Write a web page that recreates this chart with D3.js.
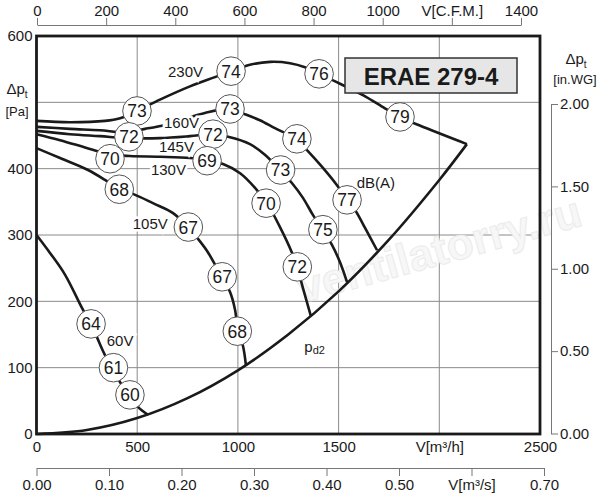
<!DOCTYPE html>
<html>
<head>
<meta charset="utf-8">
<script src="https://cdn.jsdelivr.net/npm/d3@7/dist/d3.min.js"></script>
<style>
  html, body { margin: 0; padding: 0; background: #fff; }
  svg { display: block; font-family: "Liberation Sans", Arial, sans-serif; }
</style>
</head>
<body>
<svg id="chart" width="600" height="500"></svg>
<script>
// ---------- DATA (flow in m³/h, pressure in Pa) ----------
const flowTicks = [0, 500, 1000, 1500, 2000, 2500];
const flowTickLabels = ["0", "500", "1000", "1500", "V[m³/h]", "2500"];
const paGrid = [100, 200, 300, 400, 500];
const paTickLabels = [0, 100, 200, 300, 400, 600];
const cfmTicks = [0, 200, 400, 600, 800, 1000, 1200, 1400];
const cfmTickLabels = ["0", "200", "400", "600", "800", "1000", "V[C.F.M.]", "1400"];
const m3sTicks = [0, 0.1, 0.2, 0.3, 0.4, 0.5, 0.6, 0.7];
const m3sTickLabels = ["0.00", "0.10", "0.20", "0.30", "0.40", "0.50", "V[m³/s]", "0.70"];
const inwgTicks = [0, 0.5, 1.0, 1.5, 2.0];
const inwgTickLabels = ["0.00", "0.50", "1.00", "1.50", "2.00"];

const curve230V = [[0,472],[166,470],[340,472],[415,476],[499,487],[613,504],[762,524],[886,538],[966,547],[1050,556],[1160,561],[1259,559],[1333,553],[1403,543],[1507,528],[1621,511],[1730,491],[1804,478],[1903,465],[2137,437]];
const curve160V = [[0,463],[166,460],[315,458],[439,455],[539,460],[638,466],[737,475],[836,484],[961,490],[1035,482],[1109,473],[1184,461],[1288,445],[1343,428],[1417,403],[1492,375],[1542,353],[1581,338],[1636,308],[1691,277]];
const curve145V = [[0,457],[166,452],[315,449],[459,446],[613,446],[762,449],[871,452],[951,448],[1060,437],[1134,421],[1209,398],[1269,378],[1323,356],[1373,330],[1422,308],[1467,285],[1507,259],[1542,229]];
const curve130V = [[0,452],[117,443],[241,432],[355,422],[464,419],[613,418],[762,416],[847,412],[926,407],[1011,393],[1085,371],[1144,348],[1209,312],[1269,273],[1294,252],[1323,220],[1362,178]];
const curve105V = [[0,431],[117,416],[256,398],[340,383],[410,369],[479,362],[578,348],[678,333],[752,312],[800,295],[847,276],[887,255],[921,237],[961,214],[986,187],[1000,155],[1025,133],[1040,103]];
const curve60V = [[0,300],[67,273],[142,240],[231,187],[271,166],[300,146],[340,119],[380,100],[415,78],[464,59],[504,41],[554,29]];
const curvePd2 = [[0,0],[250,6],[500,24],[750,54],[1000,96],[1250,150],[1500,215],[1750,293],[2000,383],[2137,437]];

const seriesNames = ["230V", "160V", "145V", "130V", "105V", "60V"];
// label anchor points [flow, pressure]
const seriesLabelPos = [[740,547],[720,470],[695,433],[655,398],[565,317],[415,141]];

// sound level markers: [flow, pressure, dB(A)]
const soundLevels = [
  [499,487,73],[966,547,74],[1403,543,76],[1805,478,79],
  [961,490,73],[1293,445,74],[1542,353,77],
  [459,448,72],[876,452,72],[1212,398,73],[1422,308,75],
  [365,415,70],[847,412,69],[1140,348,70],[1295,252,72],
  [411,369,68],[754,312,67],[922,237,67],[997,155,68],
  [271,166,64],[382,100,61],[464,59,60]
];

const chartTitle = "ERAE 279-4";

// ---------- SCALES ----------
const svg = d3.select("#chart");
const x = d3.scaleLinear().domain([0, 2500]).range([36.5, 540]);
const y = d3.scaleLinear().domain([0, 600]).range([434, 36]);
const xCfm = d3.scaleLinear().domain([0, 1400]).range([37, 521]);
const xM3s = d3.scaleLinear().domain([0, 0.7]).range([36.5, 544]);
const yInwg = d3.scaleLinear().domain([0, 2]).range([433.5, 104]);

const FS = 15;

// ---------- GRID ----------
const grid = svg.append("g").attr("stroke", "#8a8a8a").attr("stroke-width", 1);
flowTicks.filter(v => v > 0 && v < 2500).forEach(v => {
  grid.append("line").attr("x1", x(v)).attr("x2", x(v)).attr("y1", y(600)).attr("y2", y(0));
});
paGrid.forEach(v => {
  grid.append("line").attr("x1", x(0)).attr("x2", x(2500)).attr("y1", y(v)).attr("y2", y(v));
});

// watermark
svg.append("text")
  .attr("transform", "translate(440,253) rotate(-15.5)")
  .attr("text-anchor", "middle").attr("dominant-baseline", "middle")
  .attr("font-size", 44).attr("font-weight", "bold")
  .attr("fill", "#f7f7f7").attr("stroke", "#ebebeb").attr("stroke-width", 1)
  .text("ventilatorry.ru");

// ---------- CURVES ----------
const line = d3.line().x(d => x(d[0])).y(d => y(d[1])).curve(d3.curveCatmullRom.alpha(0.5));
const allCurves = [curve230V, curve160V, curve145V, curve130V, curve105V, curve60V];
const curveG = svg.append("g").attr("fill", "none").attr("stroke", "#1a1a1a").attr("stroke-width", 2.6).attr("stroke-linejoin", "round");
allCurves.forEach(c => curveG.append("path").attr("d", line(c)));
curveG.append("path").attr("d", line(curvePd2));

// series labels with white halo
const labG = svg.append("g").attr("font-size", FS).attr("fill", "#1a1a1a").attr("text-anchor", "middle")
  .attr("dominant-baseline", "central");
seriesNames.forEach((n, i) => {
  labG.append("text").attr("x", x(seriesLabelPos[i][0])).attr("y", y(seriesLabelPos[i][1]))
    .attr("stroke", "#fff").attr("stroke-width", 5).attr("paint-order", "stroke").text(n);
});
labG.append("text").attr("x", x(1685)).attr("y", y(379)).text("dB(A)");
const pd = labG.append("text").attr("x", x(1330)).attr("y", y(132)).attr("text-anchor", "start");
pd.append("tspan").text("p");
pd.append("tspan").attr("font-size", 11).attr("dy", 4).text("d2");

// sound level circles
const cg = svg.append("g");
soundLevels.forEach(s => {
  const g = cg.append("g").attr("transform", `translate(${x(s[0])},${y(s[1])})`);
  g.append("circle").attr("r", 14.3).attr("fill", "#fff").attr("stroke", "#555").attr("stroke-width", 1);
  g.append("text").attr("text-anchor", "middle").attr("dominant-baseline", "central").attr("y", 0.5)
    .attr("font-size", 17.5).attr("fill", "#1a1a1a").text(s[2]);
});

// ---------- FRAME ----------
svg.append("rect").attr("x", x(0)).attr("y", y(600)).attr("width", x(2500) - x(0)).attr("height", y(0) - y(600))
  .attr("fill", "none").attr("stroke", "#1a1a1a").attr("stroke-width", 2.8);

// title box
svg.append("rect").attr("x", 345).attr("y", 58).attr("width", 172).attr("height", 35)
  .attr("fill", "#e6e6e6").attr("stroke", "#333").attr("stroke-width", 1.5);
svg.append("text").attr("x", 431).attr("y", 76).attr("text-anchor", "middle").attr("dominant-baseline", "central")
  .attr("font-size", 24).attr("font-weight", "bold").attr("fill", "#1a1a1a").text(chartTitle);

// ---------- AXES ----------
function styleAxis(g) {
  g.selectAll("text").attr("font-size", FS).attr("fill", "#1a1a1a").attr("font-family", "Liberation Sans, Arial, sans-serif");
  g.selectAll("line").attr("stroke", "#777");
  g.select(".domain").attr("stroke", "#777");
}

// left Pa labels
svg.append("g").attr("transform", `translate(${x(0)},0)`)
  .call(d3.axisLeft(y).tickValues(paTickLabels).tickSize(0).tickPadding(4).tickFormat(d3.format("d")))
  .call(g => g.select(".domain").remove()).call(styleAxis);

// bottom m3/h labels
svg.append("g").attr("transform", `translate(0,${y(0) + 4})`)
  .call(d3.axisBottom(x).tickValues(flowTicks).tickSize(0).tickPadding(3).tickFormat((d, i) => flowTickLabels[i]))
  .call(g => g.select(".domain").remove()).call(styleAxis);

// top CFM axis
svg.append("g").attr("transform", "translate(0,25)")
  .call(d3.axisTop(xCfm).tickValues(cfmTicks).tickSize(7).tickPadding(2).tickSizeOuter(0).tickFormat((d, i) => cfmTickLabels[i]))
  .call(styleAxis);

// bottom m3/s axis
svg.append("g").attr("transform", "translate(0,468)")
  .call(d3.axisBottom(xM3s).tickValues(m3sTicks).tickSize(8).tickPadding(3).tickSizeOuter(0).tickFormat((d, i) => m3sTickLabels[i]))
  .call(styleAxis);

// right in.WG axis
svg.append("g").attr("transform", "translate(551,0)")
  .call(d3.axisRight(yInwg).tickValues(inwgTicks).tickSize(7).tickPadding(2).tickSizeOuter(0).tickFormat((d, i) => inwgTickLabels[i]))
  .call(styleAxis);

// axis titles
function dpLabel(cx, cy) {
  const t = svg.append("text").attr("x", cx).attr("y", cy).attr("text-anchor", "middle")
    .attr("font-size", 15).attr("fill", "#1a1a1a");
  t.append("tspan").text("Δp");
  t.append("tspan").attr("font-size", 10).attr("dy", 4).text("t");
}
dpLabel(17, 94);
svg.append("text").attr("x", 17).attr("y", 116).attr("text-anchor", "middle").attr("font-size", 13).attr("fill", "#1a1a1a").text("[Pa]");
dpLabel(576, 64);
svg.append("text").attr("x", 575).attr("y", 84).attr("text-anchor", "middle").attr("font-size", 13).attr("fill", "#1a1a1a").text("[in.WG]");
</script>
</body>
</html>
